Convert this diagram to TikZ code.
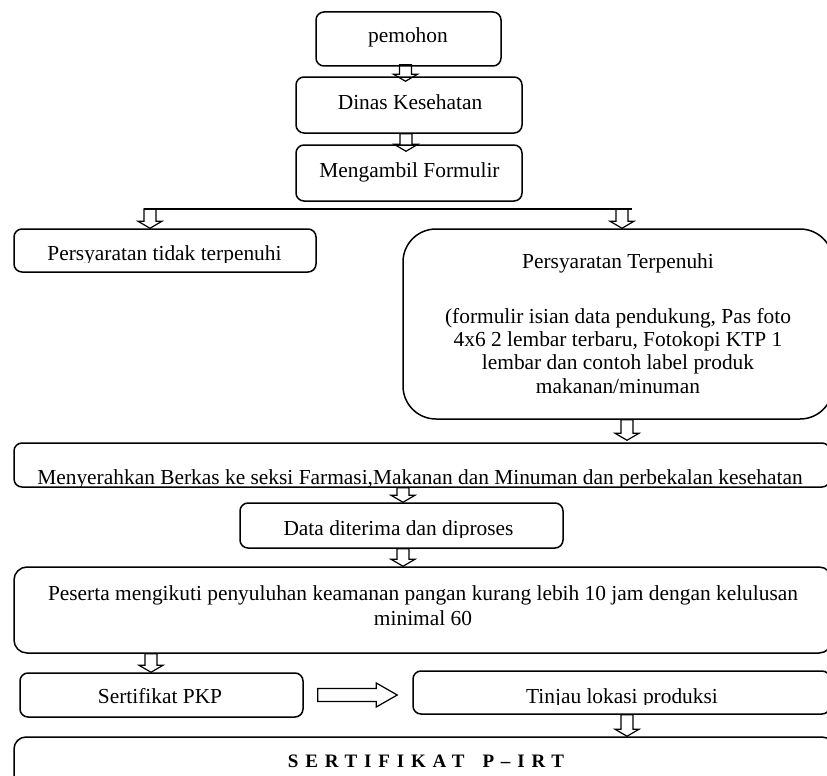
\documentclass[tikz,border=0pt]{standalone}
\usepackage{fontspec}
\setmainfont{Liberation Serif}
\usetikzlibrary{calc}
\tikzset{
  box/.style={draw, line width=1.5pt, rounded corners=8pt, inner sep=0pt},
  txt/.style={inner sep=0pt, anchor=base, font=\fontsize{21.4}{23.1}\selectfont},
  blkline/.style={draw, line width=1.2pt, line join=miter},
  downblk/.style={blkline, to path={let \p1=(\tikztostart), \p2=(\tikztotarget) in
      (\x1-6pt,\y1) -- (\x1-6pt,\y2+7pt) -- (\x1-12pt,\y2+7pt) -- (\x1,\y2)
      -- (\x1+12pt,\y2+7pt) -- (\x1+6pt,\y2+7pt) -- (\x1+6pt,\y1) -- cycle}},
  rightblk/.style={blkline, to path={let \p1=(\tikztostart), \p2=(\tikztotarget) in
      (\x1,\y1+6.5pt) -- (\x2-21pt,\y1+6.5pt) -- (\x2-21pt,\y1+12pt) -- (\x2,\y1)
      -- (\x2-21pt,\y1-12pt) -- (\x2-21pt,\y1-6.5pt) -- (\x1,\y1-6.5pt) -- cycle}},
}
\begin{document}
\begin{tikzpicture}[x=1pt,y=-1pt]
\useasboundingbox (0,0) rectangle (827,776);
\clip (0,0) rectangle (827,776);

% boxes
\node[box, minimum width=185, minimum height=54] (pemohon) at (408.5,39) {};
\node[box, minimum width=226, minimum height=56] (dinas) at (409,105) {};
\node[box, minimum width=226, minimum height=56] (ambil) at (409,173) {};
\node[box, minimum width=302, minimum height=43] (tidak) at (165,250.5) {};
\node[box, rounded corners=33pt, minimum width=430, minimum height=190] (terp) at (618,324) {};
\node[box, minimum width=816, minimum height=44] (meny) at (422,465) {};
\node[box, minimum width=323, minimum height=45] (data) at (401.5,525.5) {};
\node[box, rounded corners=13pt, minimum width=818, minimum height=86] (peserta) at (423,610) {};
\node[box, minimum width=283, minimum height=44] (pkp) at (161.5,695) {};
\node[box, minimum width=417, minimum height=43] (tinjau) at (621.5,692.5) {};
\node[box, rounded corners=12pt, minimum width=820, minimum height=53] (sert) at (424,763.5) {};

% texts
\node[txt] (tpemohon) at (408,43) {pemohon};
\node[txt] (tdinas) at (410,109) {Dinas Kesehatan};
\node[txt] (tambil) at (409.5,177) {Mengambil Formulir};
\begin{scope}
  \clip (14,229) rectangle (316,262);
  \node[txt] (ttidak) at (164.5,260.5) {Persyaratan tidak terpenuhi};
\end{scope}
\node[txt] (tterp1) at (618,268) {Persyaratan Terpenuhi};
\node[txt, align=center] (tterp2) at (618,393) {(formulir isian data pendukung, Pas foto\\4x6 2 lembar terbaru, Fotokopi KTP 1\\lembar dan contoh label produk\\makanan/minuman};
\begin{scope}
  \clip (14,443) rectangle (830,486);
  \node[txt] (tmeny) at (420,484) {Menyerahkan Berkas ke seksi Farmasi,Makanan dan Minuman dan perbekalan kesehatan};
\end{scope}
\begin{scope}
  \clip (240,503) rectangle (563,537);
  \node[txt] (tdata) at (398.5,535.5) {Data diterima dan diproses};
\end{scope}
\node[txt, align=center, font=\fontsize{21.4}{25.5}\selectfont] (tpeserta) at (423,625.5) {Peserta mengikuti penyuluhan keamanan pangan kurang lebih 10 jam dengan kelulusan\\minimal 60};
\node[txt] (tpkp) at (160,703) {Sertifikat PKP};
\begin{scope}
  \clip (413,671) rectangle (830,704.5);
  \node[txt] (ttinjau) at (622,703) {Tinjau lokasi produksi};
\end{scope}
\node[txt, font=\fontsize{19}{19}\selectfont\bfseries\addfontfeature{LetterSpace=36}] (tsert) at (426,767) {SERTIFIKAT\hspace*{18pt}P–IRT};

% connectors
\coordinate (L1) at (144,209);
\coordinate (L2) at (632,209);
\draw[line width=1.6pt] (L1) -- (L2);
\coordinate (a3) at (150,209);
\coordinate (a4) at (622,209);

\draw[downblk] ([xshift=-3pt,yshift=2pt]pemohon.south) to ([yshift=-5pt]dinas.north);
\draw[downblk] ([xshift=-3pt]dinas.south) to ([yshift=-7pt]ambil.north);
\draw[downblk] (a3) to (tidak.north);
\draw[downblk] (a4) to (terp.north);
\draw[downblk] ([xshift=9pt]terp.south) to ([yshift=2pt]meny.north);
\draw[downblk] ([xshift=-19pt]meny.south) to (data.north);
\draw[downblk] ([xshift=1.5pt]data.south) to (peserta.north);
\draw[downblk] ([xshift=-272pt]peserta.south) to (pkp.north);
\draw[rightblk] ([xshift=14pt]pkp.east) to ([xshift=-15pt]tinjau.west);
\draw[downblk] ([xshift=5.5pt]tinjau.south) to (sert.north);
\end{tikzpicture}
\end{document}
